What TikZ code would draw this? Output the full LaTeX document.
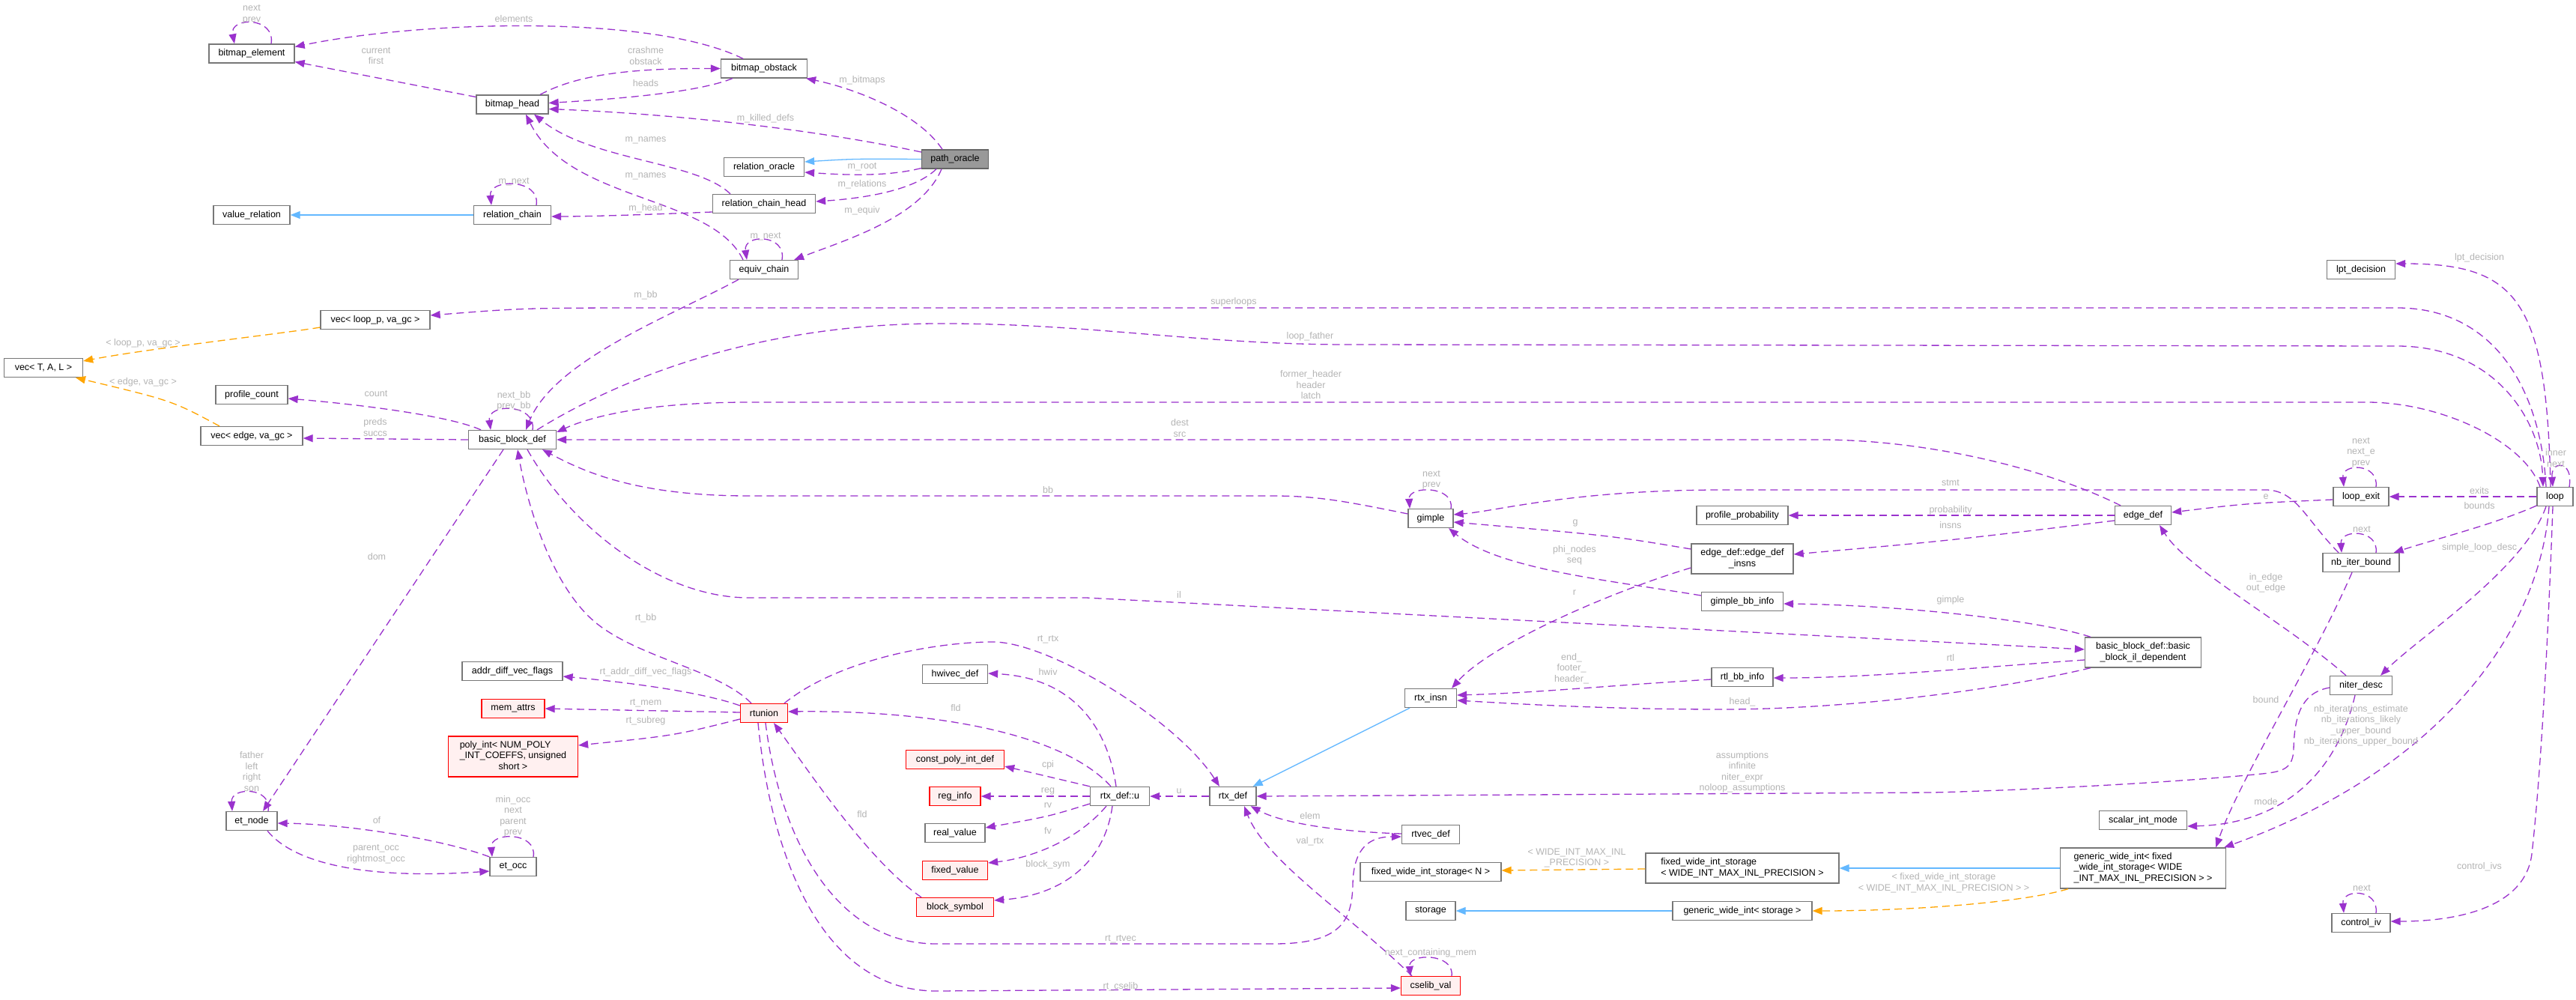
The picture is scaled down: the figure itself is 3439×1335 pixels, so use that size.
\documentclass[tikz,border=0pt]{standalone}
\usepackage{fontspec}
\setmainfont{Liberation Sans}
\usetikzlibrary{arrows.meta}
\definecolor{edgepurple}{HTML}{9A32CD}
\definecolor{inhblue}{HTML}{63B8FF}
\definecolor{tmplorange}{HTML}{FFA500}
\definecolor{lblgray}{HTML}{B4B4B4}
\definecolor{boxgray}{HTML}{777777}
\definecolor{redfill}{HTML}{FFF0F0}
\definecolor{hlfill}{HTML}{999999}
\definecolor{hlborder}{HTML}{666666}
\newcommand\dxfont{\fontsize{12.5}{14.5}\selectfont}
\begin{document}
\begin{tikzpicture}[x=1pt,y=-1pt,
  clsbox/.style={draw=boxgray, fill=white, line width=1.3pt, minimum height=25pt, inner sep=0pt, font=\dxfont, text=black},
  redbox/.style={clsbox, draw=red, fill=redfill},
  hlbox/.style={clsbox, draw=hlborder, fill=hlfill},
  dep/.style={draw=edgepurple, line width=1.3pt, dash pattern=on 10pt off 6pt, -{Triangle[length=13pt,width=10pt]}},
  inh/.style={draw=inhblue, line width=1.3pt, -{Triangle[length=13pt,width=10pt]}},
  tmpl/.style={draw=tmplorange, line width=1.3pt, dash pattern=on 10pt off 6pt, -{Triangle[length=13pt,width=10pt]}},
  lbl/.style={text=lblgray, font=\dxfont, align=center, inner sep=0pt}]
\useasboundingbox[fill=white] (0,0) rectangle (3439,1335);

% ---------------- nodes ----------------
\node[clsbox, minimum width=114] (bitmap_element) at (336,71.5) {bitmap\_element};
\node[clsbox, minimum width=96] (bitmap_head) at (684,139.5) {bitmap\_head};
\node[clsbox, minimum width=115] (bitmap_obstack) at (1020,91.5) {bitmap\_obstack};
\node[hlbox, minimum width=89] (path_oracle) at (1275,212.5) {path\_oracle};
\node[clsbox, minimum width=107] (relation_oracle) at (1020,223) {relation\_oracle};
\node[clsbox, minimum width=137] (relation_chain_head) at (1020,272) {relation\_chain\_head};
\node[clsbox, minimum width=91] (equiv_chain) at (1020,360) {equiv\_chain};
\node[clsbox, minimum width=102] (value_relation) at (336,287) {value\_relation};
\node[clsbox, minimum width=103] (relation_chain) at (684,287) {relation\_chain};
\node[clsbox, minimum width=146] (vec_loop) at (501,427) {vec< loop\_p, va\_gc >};
\node[clsbox, minimum width=105] (vecTAL) at (58,491) {vec< T, A, L >};
\node[clsbox, minimum width=96] (profile_count) at (336,527) {profile\_count};
\node[clsbox, minimum width=136] (vec_edge) at (336,582) {vec< edge, va\_gc >};
\node[clsbox, minimum width=117] (bbd) at (684,587) {basic\_block\_def};
\node[clsbox, minimum width=91] (lpt_decision) at (3152,360) {lpt\_decision};
\node[clsbox, minimum width=60] (gimple) at (1910,692) {gimple};
\node[clsbox, minimum width=122] (profile_probability) at (2326,688) {profile\_probability};
\node[clsbox, minimum width=136, minimum height=40] (edge_def_insns) at (2326,746) {\begin{tabular}{@{}l@{}}edge\_def::edge\_def\\\multicolumn{1}{@{}c@{}}{\_insns}\end{tabular}};
\node[clsbox, minimum width=109] (gimple_bb_info) at (2326,803) {gimple\_bb\_info};
\node[clsbox, minimum width=75] (edge_def) at (2861,688) {edge\_def};
\node[clsbox, minimum width=74] (loop_exit) at (3152,663) {loop\_exit};
\node[clsbox, minimum width=48] (loop) at (3411,663) {loop};
\node[clsbox, minimum width=102] (nb_iter_bound) at (3152,751) {nb\_iter\_bound};
\node[clsbox, minimum width=155, minimum height=40] (bbil) at (2861,871) {\begin{tabular}{@{}l@{}}basic\_block\_def::basic\\\multicolumn{1}{@{}c@{}}{\_block\_il\_dependent}\end{tabular}};
\node[clsbox, minimum width=83] (niter_desc) at (3152,915) {niter\_desc};
\node[clsbox, minimum width=82] (rtl_bb_info) at (2326,904) {rtl\_bb\_info};
\node[clsbox, minimum width=69] (rtx_insn) at (1910,932) {rtx\_insn};
\node[clsbox, minimum width=134] (addr_diff_vec_flags) at (684,896) {addr\_diff\_vec\_flags};
\node[redbox, minimum width=84] (mem_attrs) at (685,946) {mem\_attrs};
\node[redbox, minimum width=173, minimum height=54] (poly_int) at (685,1010) {\begin{tabular}{@{}l@{}}poly\_int< NUM\_POLY\\\_INT\_COEFFS, unsigned\\\multicolumn{1}{@{}c@{}}{short >}\end{tabular}};
\node[clsbox, minimum width=68] (et_node) at (336,1096) {et\_node};
\node[clsbox, minimum width=62] (et_occ) at (685,1157) {et\_occ};
\node[redbox, minimum width=63] (rtunion) at (1020,952) {rtunion};
\node[clsbox, minimum width=87] (hwivec_def) at (1275,900) {hwivec\_def};
\node[redbox, minimum width=131] (const_poly_int_def) at (1275,1014) {const\_poly\_int\_def};
\node[redbox, minimum width=68] (reg_info) at (1275,1063) {reg\_info};
\node[clsbox, minimum width=80] (real_value) at (1275,1112) {real\_value};
\node[redbox, minimum width=87] (fixed_value) at (1275,1162) {fixed\_value};
\node[redbox, minimum width=103] (block_symbol) at (1275,1211) {block\_symbol};
\node[clsbox, minimum width=79] (rtx_def_u) at (1495,1063) {rtx\_def::u};
\node[clsbox, minimum width=62] (rtx_def) at (1646,1063) {rtx\_def};
\node[clsbox, minimum width=77] (rtvec_def) at (1910,1114) {rtvec\_def};
\node[clsbox, minimum width=188] (fwisN) at (1910,1164) {fixed\_wide\_int\_storage< N >};
\node[clsbox, minimum width=66] (storage) at (1910,1216) {storage};
\node[redbox, minimum width=79] (cselib_val) at (1910,1316) {cselib\_val};
\node[clsbox, minimum width=258, minimum height=40] (fwisW) at (2326,1159) {\begin{tabular}{@{}l@{}}fixed\_wide\_int\_storage\\\multicolumn{1}{@{}c@{}}{< WIDE\_INT\_MAX\_INL\_PRECISION >}\end{tabular}};
\node[clsbox, minimum width=186] (gwis) at (2326,1216) {generic\_wide\_int< storage >};
\node[clsbox, minimum width=117] (scalar_int_mode) at (2861,1095) {scalar\_int\_mode};
\node[clsbox, minimum width=221, minimum height=54] (gwi) at (2861,1159) {\begin{tabular}{@{}l@{}}generic\_wide\_int< fixed\\\_wide\_int\_storage< WIDE\\\multicolumn{1}{@{}c@{}}{\_INT\_MAX\_INL\_PRECISION > >}\end{tabular}};
\node[clsbox, minimum width=78] (control_iv) at (3152,1232) {control\_iv};

% ---------------- edges ----------------
\draw[dep] ([xshift=26]bitmap_element.north) .. controls (368,22) and (306,22) .. ([xshift=-23]bitmap_element.north);
\draw[dep] ([xshift=-28]bitmap_obstack.north) .. controls (870,18) and (560,28) .. ([yshift=9]bitmap_element.east);
\draw[dep] ([yshift=10]bitmap_head.west) -- ([yshift=-11]bitmap_element.east);
\draw[dep] ([xshift=37]bitmap_head.north) .. controls (770,100) and (840,91) .. (bitmap_obstack.west);
\draw[dep] ([xshift=-42]bitmap_obstack.south) .. controls (940,120) and (860,130) .. ([yshift=2]bitmap_head.east);
\draw[dep] ([yshift=9.5]path_oracle.west) .. controls (1050,165) and (850,150) .. ([yshift=-6]bitmap_head.east);
\draw[dep] ([xshift=-45]relation_chain_head.north) .. controls (930,215) and (790,215) .. ([xshift=29]bitmap_head.south);
\draw[dep] ([xshift=-28]equiv_chain.north) .. controls (950,260) and (760,270) .. ([xshift=18]bitmap_head.south);
\draw[dep] ([xshift=32]relation_chain.north) .. controls (722,238) and (652,238) .. ([xshift=-28]relation_chain.north);
\draw[inh] (relation_chain.west) -- (value_relation.east);
\draw[dep] ([yshift=-11]relation_chain_head.west) .. controls (900,285) and (800,289) .. ([yshift=-2]relation_chain.east);
\draw[inh] (path_oracle.west) .. controls (1140,212) .. ([yshift=7]relation_oracle.east);
\draw[dep] ([yshift=-12]path_oracle.west) .. controls (1180,237) and (1120,233) .. ([yshift=-7]relation_oracle.east);
\draw[dep] ([xshift=-25]path_oracle.south) .. controls (1220,255) and (1150,265) .. ([yshift=3]relation_chain_head.east);
\draw[dep] ([xshift=-18]path_oracle.south) .. controls (1230,290) and (1130,320) .. ([xshift=-6]equiv_chain.north east);
\draw[dep] ([xshift=-17]path_oracle.north) .. controls (1225,150) and (1140,118) .. ([xshift=-2]bitmap_obstack.south east);
\draw[dep] ([xshift=24]equiv_chain.north) .. controls (1050,312) and (992,312) .. ([xshift=-23]equiv_chain.north);
\draw[dep] ([xshift=-34]equiv_chain.south) .. controls (900,420) and (740,480) .. ([xshift=18]bbd.north);
\draw[dep] ([xshift=-12]loop.north) .. controls (3392,520) and (3330,411) .. (3200,411) -- (900,411) .. controls (700,411) .. ([yshift=6]vec_loop.east);
\draw[dep] ([xshift=-6]loop.north) .. controls (3400,400) and (3360,352) .. ([yshift=8]lpt_decision.east);
\draw[tmpl] ([yshift=-10]vec_loop.west) .. controls (380,445) and (200,465) .. ([yshift=9]vecTAL.east);
\draw[tmpl] ([xshift=-43]vec_edge.north) .. controls (230,535) .. ([xshift=43]vecTAL.south);
\draw[dep] ([xshift=-42]bbd.north) .. controls (600,555) and (480,540) .. ([yshift=-5]profile_count.east);
\draw[dep] (bbd.west) -- ([yshift=-3]vec_edge.east);
\draw[dep] ([xshift=27]bbd.north) .. controls (716,538) and (650,538) .. ([xshift=-29]bbd.north);
\draw[dep] ([xshift=33]bbd.north) .. controls (820,510) and (1000,433) .. (1250,432) .. controls (1450,431) and (1600,460) .. (1800,460) -- (3200,462) .. controls (3330,462) and (3392,560) .. ([xshift=-16]loop.north);
\draw[dep] ([xshift=-20]loop.north) .. controls (3370,590) and (3260,537) .. (3160,537) -- (1000,537) .. controls (850,537) and (780,560) .. ([yshift=10]bbd.east);
\draw[dep] ([xshift=-30]edge_def.north) .. controls (2720,620) and (2560,587) .. (2430,587) -- (bbd.east);
\draw[dep] ([yshift=6]gimple.west) .. controls (1800,670) and (1760,662) .. (1700,662) -- (1000,662) .. controls (850,662) and (780,630) .. ([xshift=40]bbd.south);
\draw[dep] ([xshift=-17]rtunion.north) .. controls (960,895) and (860,880) .. (800,835) .. controls (740,790) and (705,680) .. ([xshift=7]bbd.south);
\draw[dep] ([xshift=-12]bbd.south) -- ([xshift=15]et_node.north);
\draw[dep] ([xshift=22]et_node.north) .. controls (364,1050) and (308,1050) .. ([xshift=-26]et_node.north);
\draw[dep] (et_occ.north west) .. controls (590,1120) and (460,1100) .. ([yshift=-3]et_node.east);
\draw[dep] ([xshift=21]et_node.south) .. controls (390,1150) and (480,1175) .. ([yshift=-6]et_occ.west);
\draw[dep] ([xshift=27]et_occ.north) .. controls (718,1110) and (654,1110) .. ([xshift=-28]et_occ.north);
\draw[dep] ([yshift=10]rtunion.west) .. controls (940,925) and (850,912) .. ([yshift=-7]addr_diff_vec_flags.east);
\draw[dep] ([yshift=1]rtunion.west) -- (mem_attrs.east);
\draw[dep] ([yshift=-8]rtunion.west) .. controls (900,982) .. ([yshift=15]poly_int.east);
\draw[dep] ([xshift=27]rtunion.north) .. controls (1120,880) and (1250,857) .. (1326,857) .. controls (1400,857) and (1570,960) .. ([xshift=-18]rtx_def.north);
\draw[dep] ([xshift=-12]rtx_def_u.north) .. controls (1420,980) and (1250,948) .. ([yshift=2]rtunion.east);
\draw[dep] ([xshift=-45]block_symbol.north) .. controls (1160,1150) and (1080,1030) .. ([xshift=13]rtunion.south);
\draw[dep] ([xshift=2]rtunion.south) .. controls (1040,1110) and (1110,1260) .. (1250,1260) -- (1700,1260) .. controls (1790,1260) and (1805,1230) .. (1806,1180) .. controls (1807,1130) and (1830,1117) .. ([yshift=-3]rtvec_def.west);
\draw[dep] ([xshift=-8]rtunion.south) .. controls (1030,1150) and (1100,1323) .. (1250,1323) -- ([yshift=-3]cselib_val.west);
\draw[dep] ([xshift=-5]rtx_def_u.north) .. controls (1480,980) and (1440,905) .. ([yshift=1]hwivec_def.east);
\draw[dep] (rtx_def_u.north west) -- ([yshift=-9]const_poly_int_def.east);
\draw[dep] (rtx_def_u.west) -- (reg_info.east);
\draw[dep] ([yshift=-10]rtx_def_u.west) .. controls (1400,1090) .. ([yshift=7]real_value.east);
\draw[dep] ([xshift=-18]rtx_def_u.south) .. controls (1440,1120) and (1380,1145) .. ([yshift=10]fixed_value.east);
\draw[dep] ([xshift=-10]rtx_def_u.south) .. controls (1475,1150) and (1420,1195) .. ([yshift=9]block_symbol.east);
\draw[dep] (rtx_def.west) -- (rtx_def_u.east);
\draw[inh] ([xshift=-28]rtx_insn.south) -- ([xshift=-5]rtx_def.north east);
\draw[dep] ([yshift=1]rtvec_def.west) .. controls (1780,1110) and (1710,1098) .. ([xshift=-8]rtx_def.south east);
\draw[dep] ([xshift=-25]cselib_val.north) .. controls (1800,1220) and (1690,1150) .. ([xshift=15]rtx_def.south);
\draw[dep] ([xshift=28]cselib_val.north) .. controls (1942,1272) and (1880,1272) .. ([xshift=-27]cselib_val.north);
\draw[inh] (gwi.west) -- (fwisW.east);
\draw[tmpl] ([yshift=-1]fwisW.west) -- ([yshift=2]fwisN.east);
\draw[inh] (gwis.west) -- (storage.east);
\draw[tmpl] ([xshift=-100]gwi.south) .. controls (2700,1205) and (2550,1216) .. (gwis.east);
\draw[dep] ([yshift=-3]rtl_bb_info.west) .. controls (2150,915) and (2050,925) .. ([yshift=4]rtx_insn.east);
\draw[dep] ([xshift=-70]bbil.south) .. controls (2650,925) and (2450,947) .. (2300,947) .. controls (2150,947) and (2030,940) .. ([yshift=-3]rtx_insn.east);
\draw[dep] ([yshift=-12]edge_def_insns.west) .. controls (2150,790) and (1990,860) .. ([xshift=28]rtx_insn.north);
\draw[dep] ([yshift=-10]bbil.west) .. controls (2650,890) and (2500,905) .. ([yshift=-1]rtl_bb_info.east);
\draw[dep] ([xshift=-70]bbil.north) .. controls (2730,830) and (2550,808) .. ([yshift=-3]gimple_bb_info.east);
\draw[dep] ([xshift=20]bbd.south) .. controls (760,700) and (880,798) .. (1000,798) -- (1450,798) -- ([yshift=4]bbil.west);
\draw[dep] ([yshift=8]gimple_bb_info.west) .. controls (2150,775) and (2000,760) .. ([xshift=24]gimple.south);
\draw[dep] ([yshift=13]edge_def_insns.west) .. controls (2150,715) .. ([yshift=-5]gimple.east);
\draw[dep] ([xshift=-30]nb_iter_bound.north) .. controls (3075,690) and (3065,652) .. (3020,654) -- (2300,654) .. controls (2100,654) and (2000,682) .. ([yshift=5]gimple.east);
\draw[dep] ([yshift=-4]loop_exit.west) .. controls (3000,672) .. ([yshift=4]edge_def.east);
\draw[dep] (loop.west) -- (loop_exit.east);
\draw[dep] ([xshift=20]loop_exit.north) .. controls (3176,618) and (3126,618) .. ([xshift=-23]loop_exit.north);
\draw[dep] ([yshift=-12]loop.west) .. controls (3330,700) and (3250,720) .. ([xshift=-8]nb_iter_bound.north east);
\draw[dep] ([xshift=20]nb_iter_bound.north) .. controls (3176,706) and (3124,706) .. ([xshift=-26]nb_iter_bound.north);
\draw[dep] ([xshift=-20]niter_desc.north) .. controls (3050,830) and (2920,760) .. ([xshift=22]edge_def.south);
\draw[dep] ([xshift=-12]loop.south) .. controls (3370,760) and (3230,850) .. ([xshift=26]niter_desc.north);
\draw[dep] ([xshift=-8]loop.south) .. controls (3390,850) and (3250,1030) .. ([xshift=-3]gwi.north east);
\draw[dep] ([xshift=-12]nb_iter_bound.south) .. controls (3090,880) and (2990,1040) .. ([xshift=-14]gwi.north east);
\draw[dep] ([xshift=-8]niter_desc.south) .. controls (3120,1030) and (3050,1100) .. ([yshift=-8]scalar_int_mode.east);
\draw[dep] ([yshift=-3]niter_desc.west) .. controls (3070,925) and (3063,960) .. (3062,1000) .. controls (3061,1025) and (3050,1030) .. (3020,1033) .. controls (2900,1045) and (2700,1055) .. (2580,1058) -- (rtx_def.east);
\draw[dep] ([xshift=-3]loop.south) .. controls (3400,900) and (3390,1050) .. (3380,1140) .. controls (3370,1220) and (3260,1230) .. ([yshift=2]control_iv.east);
\draw[dep] ([xshift=20]control_iv.north) .. controls (3176,1186) and (3126,1186) .. ([xshift=-23]control_iv.north);
\draw[dep] ([xshift=27]gimple.north) .. controls (1942,648) and (1880,648) .. ([xshift=-28]gimple.north);
\draw[dep] ([xshift=19]loop.north) .. controls (3436,614) and (3405,614) .. ([xshift=-3]loop.north);
\draw[dep] (edge_def.west) -- (profile_probability.east);
\draw[dep] ([yshift=-7]edge_def.west) .. controls (2600,722) .. ([yshift=6]edge_def_insns.east);

% ---------------- labels ----------------
\node[lbl] (l1) at (336,19.5) {next\\prev};
\node[lbl] (l2) at (686,25) {elements};
\node[lbl] (l3) at (502,74.5) {current\\first};
\node[lbl] (l4) at (862,74.5) {crashme\\obstack};
\node[lbl] (l5) at (862,111) {heads};
\node[lbl] (l6) at (1151,107) {m\_bitmaps};
\node[lbl] (l7) at (1022,158) {m\_killed\_defs};
\node[lbl] (l8) at (862,187) {m\_names};
\node[lbl] (l9) at (862,235) {m\_names};
\node[lbl] (l10) at (1151,223) {m\_root};
\node[lbl] (l11) at (1151,246) {m\_relations};
\node[lbl] (l12) at (686,243) {m\_next};
\node[lbl] (l13) at (862,278) {m\_head};
\node[lbl] (l14) at (1151,281) {m\_equiv};
\node[lbl] (l15) at (1022,316) {m\_next};
\node[lbl] (l16) at (862,394) {m\_bb};
\node[lbl] (l17) at (1647,403) {superloops};
\node[lbl] (l18) at (3310,344) {lpt\_decision};
\node[lbl] (l19) at (191,458) {< loop\_p, va\_gc >};
\node[lbl] (l20) at (191,510) {< edge, va\_gc >};
\node[lbl] (l21) at (502,526) {count};
\node[lbl] (l22) at (501,570.5) {preds\\succs};
\node[lbl] (l23) at (686,535.5) {next\_bb\\prev\_bb};
\node[lbl] (l24) at (1749,449) {loop\_father};
\node[lbl] (l25) at (1750,514) {former\_header\\header\\latch};
\node[lbl] (l26) at (1575,571.5) {dest\\src};
\node[lbl] (l27) at (1399,654) {bb};
\node[lbl] (l28) at (1911,640.5) {next\\prev};
\node[lbl] (l29) at (2604,645) {stmt};
\node[lbl] (l30) at (2604,681) {probability};
\node[lbl] (l31) at (2604,701) {insns};
\node[lbl] (l32) at (2103,698) {g};
\node[lbl] (l33) at (2102,741.5) {phi\_nodes\\seq};
\node[lbl] (l34) at (2102,791) {r};
\node[lbl] (l35) at (1574,794) {il};
\node[lbl] (l36) at (2604,801) {gimple};
\node[lbl] (l37) at (2604,878) {rtl};
\node[lbl] (l38) at (3152,604) {next\\next\_e\\prev};
\node[lbl] (l39) at (3412,611.5) {inner\\next};
\node[lbl] (l40) at (3310,655) {exits};
\node[lbl] (l41) at (3310,675) {bounds};
\node[lbl] (l42) at (3025,663) {e};
\node[lbl] (l43) at (3153,707) {next};
\node[lbl] (l44) at (3310,731) {simple\_loop\_desc};
\node[lbl] (l45) at (3025,778.5) {in\_edge\\out\_edge};
\node[lbl] (l46) at (862,825) {rt\_bb};
\node[lbl] (l47) at (503,743) {dom};
\node[lbl] (l48) at (1399,854) {rt\_rtx};
\node[lbl] (l49) at (2098,892.5) {end\_\\footer\_\\header\_};
\node[lbl] (l50) at (2326,937) {head\_};
\node[lbl] (l51) at (862,897) {rt\_addr\_diff\_vec\_flags};
\node[lbl] (l52) at (1399,897) {hwiv};
\node[lbl] (l53) at (862,939) {rt\_mem};
\node[lbl] (l54) at (862,962) {rt\_subreg};
\node[lbl] (l55) at (1276,945) {fld};
\node[lbl] (l56) at (1399,1021) {cpi};
\node[lbl] (l57) at (1399,1056) {reg};
\node[lbl] (l58) at (1574,1056) {u};
\node[lbl] (l59) at (1399,1075) {rv};
\node[lbl] (l60) at (1151,1087) {fld};
\node[lbl] (l61) at (1399,1109) {fv};
\node[lbl] (l62) at (1399,1154) {block\_sym};
\node[lbl] (l63) at (2326,1031) {assumptions\\infinite\\niter\_expr\\noloop\_assumptions};
\node[lbl] (l64) at (1749,1089) {elem};
\node[lbl] (l65) at (1749,1123) {val\_rtx};
\node[lbl] (l66) at (2105,1145.5) {< WIDE\_INT\_MAX\_INL\\\_PRECISION >};
\node[lbl] (l67) at (2595,1178.5) {< fixed\_wide\_int\_storage\\< WIDE\_INT\_MAX\_INL\_PRECISION > >};
\node[lbl] (l68) at (1496,1254) {rt\_rtvec};
\node[lbl] (l69) at (1496,1317) {rt\_cselib};
\node[lbl] (l70) at (1910,1272) {next\_containing\_mem};
\node[lbl] (l71) at (336,1030) {father\\left\\right\\son};
\node[lbl] (l72) at (503,1095) {of};
\node[lbl] (l73) at (502,1140) {parent\_occ\\rightmost\_occ};
\node[lbl] (l74) at (685,1090) {min\_occ\\next\\parent\\prev};
\node[lbl] (l75) at (3025,934) {bound};
\node[lbl] (l76) at (3152,969) {nb\_iterations\_estimate\\nb\_iterations\_likely\\\_upper\_bound\\nb\_iterations\_upper\_bound};
\node[lbl] (l77) at (3025,1070) {mode};
\node[lbl] (l78) at (3310,1157) {control\_ivs};
\node[lbl] (l79) at (3153,1186) {next};
\end{tikzpicture}
\end{document}
